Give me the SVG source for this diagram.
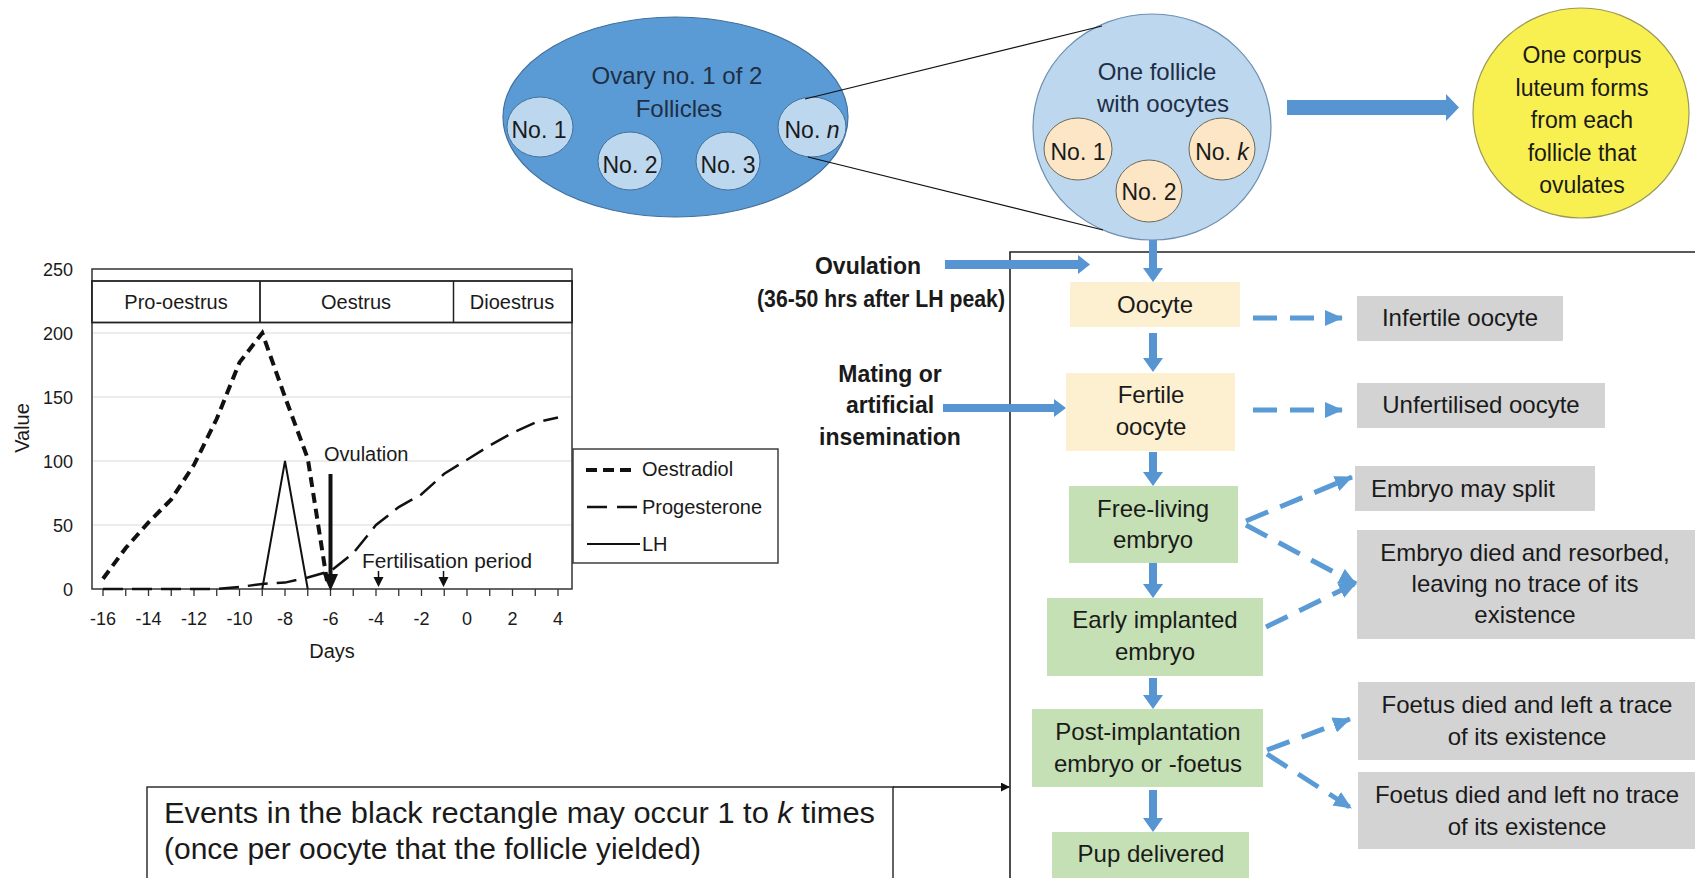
<svg xmlns="http://www.w3.org/2000/svg" width="1695" height="878" viewBox="0 0 1695 878">
<style>
text{font-family:"Liberation Sans",Arial,sans-serif;fill:#1a1a1a}
.t24{font-size:24px;text-anchor:middle}
.t23{font-size:23px;text-anchor:middle}
.ov{fill:#1e2f45}
.b{font-size:23px;font-weight:bold;text-anchor:middle}
.box{stroke:none}
.yel{fill:#fdf0d0}
.grn{fill:#c5e0b4}
.gry{fill:#d3d3d3}
.blk{fill:#5694d2}
.dash{stroke:#5b9bd5;stroke-width:5;stroke-dasharray:24 13;fill:none;marker-end:url(#dh)}
.ct{font-size:20px}
.tick{font-size:18px;text-anchor:middle}
.grid{stroke:#d9d9d9;stroke-width:1.2}
.it{font-style:italic}
</style>
<defs>
<marker id="dh" viewBox="0 0 18 16" refX="17" refY="8" markerWidth="18" markerHeight="16" markerUnits="userSpaceOnUse" orient="auto"><path d="M0,0 L18,8 L0,16 z" fill="#5b9bd5"/></marker>
<marker id="ka" viewBox="0 0 10 10" refX="9" refY="5" markerWidth="9" markerHeight="9" markerUnits="userSpaceOnUse" orient="auto"><path d="M0,0 L10,5 L0,10 z" fill="#111"/></marker>
</defs>

<!-- Ovary -->
<g id="ovary">
<ellipse cx="675.5" cy="117" rx="172.5" ry="100" fill="#5b9bd5" stroke="#41719c" stroke-width="1.2"/>
<text class="t24 ov" x="677" y="84">Ovary no. 1 of 2</text>
<text class="t24 ov" x="679" y="117">Follicles</text>
</g>
<g id="ovary-follicle-1"><ellipse cx="540" cy="127" rx="33" ry="30" fill="#bdd7ee" stroke="#41719c" stroke-width="1"/><text class="t23" x="539" y="138">No. 1</text></g>
<g id="ovary-follicle-2"><ellipse cx="630" cy="161" rx="32" ry="29" fill="#bdd7ee" stroke="#41719c" stroke-width="1"/><text class="t23" x="630" y="173">No. 2</text></g>
<g id="ovary-follicle-3"><ellipse cx="728" cy="161" rx="32" ry="29" fill="#bdd7ee" stroke="#41719c" stroke-width="1"/><text class="t23" x="728" y="173">No. 3</text></g>
<g id="ovary-follicle-n"><ellipse cx="812" cy="127" rx="34" ry="30" fill="#bdd7ee" stroke="#41719c" stroke-width="1"/><text class="t23" x="812" y="138">No. <tspan class="it">n</tspan></text></g>

<!-- Follicle -->
<g id="follicle">
<ellipse cx="1152" cy="127" rx="119" ry="113" fill="#bdd7ee" stroke="#6d8fb0" stroke-width="1.2"/>
<text class="t24 ov" x="1157" y="80">One follicle</text>
<text class="t24 ov" x="1163" y="112">with oocytes</text>
</g>
<g id="oocyte-1"><ellipse cx="1078" cy="149" rx="34" ry="31" fill="#fce6c6" stroke="#6b6b5a" stroke-width="1"/><text class="t23" x="1078" y="160">No. 1</text></g>
<g id="oocyte-2"><ellipse cx="1149" cy="191" rx="33" ry="31" fill="#fce6c6" stroke="#6b6b5a" stroke-width="1"/><text class="t23" x="1149" y="200">No. 2</text></g>
<g id="oocyte-k"><ellipse cx="1222" cy="149" rx="33" ry="31" fill="#fce6c6" stroke="#6b6b5a" stroke-width="1"/><text class="t23" x="1222" y="160">No. <tspan class="it">k</tspan></text></g>

<!-- Corpus luteum -->
<g id="corpus-luteum">
<ellipse cx="1581" cy="113" rx="108" ry="105" fill="#f8f050" stroke="#9c9858" stroke-width="1.2"/>
<text class="t23" x="1582" y="63">One corpus</text>
<text class="t23" x="1582" y="95.5">luteum forms</text>
<text class="t23" x="1582" y="128">from each</text>
<text class="t23" x="1582" y="160.5">follicle that</text>
<text class="t23" x="1582" y="193">ovulates</text>
</g>

<!-- Black rectangle -->
<g id="event-frame">
<path d="M1695,252 H1010 V878" fill="none" stroke="#222" stroke-width="1.6"/>
</g>

<!-- Left labels -->
<g id="label-ovulation">
<text class="b" x="868" y="274">Ovulation</text>
<text class="b" x="881" y="307" textLength="248" lengthAdjust="spacingAndGlyphs">(36-50 hrs after LH peak)</text>
</g>
<g id="label-mating">
<text class="b" x="890" y="382">Mating or</text>
<text class="b" x="890" y="413">artificial</text>
<text class="b" x="890" y="445">insemination</text>
</g>

<!-- Flow boxes -->
<g id="oocyte"><rect class="box yel" x="1070" y="282" width="170" height="45"/><text class="t24" x="1155" y="313">Oocyte</text></g>
<g id="fertile-oocyte"><rect class="box yel" x="1066" y="373" width="169" height="78"/><text class="t24" x="1151" y="403">Fertile</text><text class="t24" x="1151" y="435">oocyte</text></g>
<g id="free-living-embryo"><rect class="box grn" x="1069" y="486" width="169" height="77"/><text class="t24" x="1153" y="517">Free-living</text><text class="t24" x="1153" y="548">embryo</text></g>
<g id="early-implanted-embryo"><rect class="box grn" x="1047" y="598" width="216" height="78"/><text class="t24" x="1155" y="628">Early implanted</text><text class="t24" x="1155" y="660">embryo</text></g>
<g id="post-implantation"><rect class="box grn" x="1032" y="709" width="231" height="78"/><text class="t24" x="1148" y="740">Post-implantation</text><text class="t24" x="1148" y="772">embryo or -foetus</text></g>
<g id="pup-delivered"><rect class="box grn" x="1052" y="832" width="197" height="46"/><text class="t24" x="1151" y="862">Pup delivered</text></g>

<!-- Outcome boxes -->
<g id="infertile-oocyte"><rect class="box gry" x="1357" y="296" width="206" height="45"/><text class="t24" x="1460" y="326">Infertile oocyte</text></g>
<g id="unfertilised-oocyte"><rect class="box gry" x="1357" y="383" width="248" height="45"/><text class="t24" x="1481" y="413">Unfertilised oocyte</text></g>
<g id="embryo-may-split"><rect class="box gry" x="1355" y="466" width="240" height="45"/><text class="t24" x="1463" y="497">Embryo may split</text></g>
<g id="embryo-died"><rect class="box gry" x="1357" y="530" width="338" height="109"/><text class="t24" x="1525" y="561">Embryo died and resorbed,</text><text class="t24" x="1525" y="592">leaving no trace of its</text><text class="t24" x="1525" y="623">existence</text></g>
<g id="foetus-trace"><rect class="box gry" x="1358" y="682" width="337" height="78"/><text class="t24" x="1527" y="713">Foetus died and left a trace</text><text class="t24" x="1527" y="745">of its existence</text></g>
<g id="foetus-no-trace"><rect class="box gry" x="1358" y="772" width="337" height="77"/><text class="t24" x="1527" y="803">Foetus died and left no trace</text><text class="t24" x="1527" y="835">of its existence</text></g>

<!-- Note box -->
<g id="note">
<rect x="147" y="787" width="746" height="100" fill="#fff" stroke="#222" stroke-width="1.4"/>
<text x="164" y="823" style="font-size:30px" textLength="711" lengthAdjust="spacingAndGlyphs">Events in the black rectangle may occur 1 to <tspan class="it">k</tspan> times</text>
<text x="164" y="859" style="font-size:30px">(once per oocyte that the follicle yielded)</text>
</g>

<!-- Connectors -->
<g id="connectors">
<line x1="805" y1="99" x2="1102" y2="26" stroke="#111" stroke-width="1.2"/>
<line x1="808" y1="157" x2="1103" y2="230" stroke="#111" stroke-width="1.2"/>
<polygon class="blk" points="1287,100 1446,100 1446,94 1459,107.5 1446,121 1446,115 1287,115"/>
<polygon class="blk" points="945,260 1078,260 1078,255 1090,264.5 1078,274 1078,269 945,269"/>
<polygon class="blk" points="943,404 1054,404 1054,399 1066,408 1054,417 1054,412 943,412"/>
<polygon class="blk" points="1149,240 1157,240 1157,268 1163,268 1153,282 1143,268 1149,268"/>
<polygon class="blk" points="1149,333 1157,333 1157,358 1163,358 1153,372 1143,358 1149,358"/>
<polygon class="blk" points="1149,452 1157,452 1157,472 1163,472 1153,486 1143,472 1149,472"/>
<polygon class="blk" points="1149,563 1157,563 1157,584 1163,584 1153,598 1143,584 1149,584"/>
<polygon class="blk" points="1149,678 1157,678 1157,695 1163,695 1153,709 1143,695 1149,695"/>
<polygon class="blk" points="1149,790 1157,790 1157,818 1163,818 1153,832 1143,818 1149,818"/>
<line class="dash" x1="1253" y1="318" x2="1342" y2="318"/>
<line class="dash" x1="1253" y1="410" x2="1342" y2="410"/>
<line class="dash" x1="1246" y1="521" x2="1352" y2="477"/>
<line class="dash" x1="1246" y1="525" x2="1356" y2="584"/>
<line class="dash" x1="1266" y1="627" x2="1356" y2="583"/>
<line class="dash" x1="1267" y1="750" x2="1350" y2="719"/>
<line class="dash" x1="1267" y1="754" x2="1351" y2="808"/>
<line x1="893" y1="787" x2="1009" y2="787" stroke="#111" stroke-width="1.4" marker-end="url(#ka)"/>
</g>

<!-- Chart -->
<g id="chart">
<line class="grid" x1="92" y1="525" x2="572" y2="525"/>
<line class="grid" x1="92" y1="461" x2="572" y2="461"/>
<line class="grid" x1="92" y1="397" x2="572" y2="397"/>
<line class="grid" x1="92" y1="333" x2="572" y2="333"/>
<rect x="92" y="269" width="480" height="320" fill="none" stroke="#333" stroke-width="1.5"/>
<rect x="92" y="281" width="480" height="41.5" fill="#fff" stroke="#222" stroke-width="1.8"/>
<line x1="260" y1="281" x2="260" y2="322.5" stroke="#222" stroke-width="1.8"/>
<line x1="453.5" y1="281" x2="453.5" y2="322.5" stroke="#222" stroke-width="1.5"/>
<text class="ct" x="176" y="309" text-anchor="middle">Pro-oestrus</text>
<text class="ct" x="356" y="309" text-anchor="middle">Oestrus</text>
<text class="ct" x="512" y="309" text-anchor="middle">Dioestrus</text>
<path d="M103,589v7M125.75,589v7M148.5,589v7M171.25,589v7M194,589v7M216.75,589v7M239.5,589v7M262.25,589v7M285,589v7M307.75,589v7M330.5,589v7M353.25,589v7M376,589v7M398.75,589v7M421.5,589v7M444.25,589v7M467,589v7M489.75,589v7M512.5,589v7M535.25,589v7M558,589v7" stroke="#333" stroke-width="1.3"/>
<g class="tick">
<text x="103" y="625">-16</text><text x="148.5" y="625">-14</text><text x="194" y="625">-12</text><text x="239.5" y="625">-10</text><text x="285" y="625">-8</text><text x="330.5" y="625">-6</text><text x="376" y="625">-4</text><text x="421.5" y="625">-2</text><text x="467" y="625">0</text><text x="512.5" y="625">2</text><text x="558" y="625">4</text>
</g>
<g style="font-size:18px;text-anchor:end">
<text x="73" y="276">250</text><text x="73" y="340">200</text><text x="73" y="404">150</text><text x="73" y="468">100</text><text x="73" y="532">50</text><text x="73" y="596">0</text>
</g>
<text class="ct" x="23" y="428" text-anchor="middle" transform="rotate(-90 23 428)" dy="6">Value</text>
<text class="ct" x="332" y="658" text-anchor="middle">Days</text>
<polyline points="103,589 216.75,589 239.5,587 262.25,583.9 285,582.6 307.75,577.5 330.5,571.1 353.25,553.2 376,525 398.75,507.1 421.5,494.3 444.25,473.8 467,459.7 489.75,445.6 512.5,432.8 535.25,422.6 558,417.5" fill="none" stroke="#111" stroke-width="2.5" stroke-dasharray="20 9"/>
<polyline points="262.25,589 285,461 307.75,589" fill="none" stroke="#111" stroke-width="2"/>
<polyline points="103,578.8 125.75,548 148.5,522.4 171.25,499.4 194,464.8 216.75,418.8 239.5,362.4 262.25,333 285,397 307.75,458.4 327,581" fill="none" stroke="#111" stroke-width="4" stroke-dasharray="10 6"/>
<line x1="330.5" y1="474" x2="330.5" y2="578" stroke="#111" stroke-width="4"/>
<path d="M323,574 L338,574 L330.5,591 z" fill="#111"/>
<path d="M378.5,571 v7 M443.5,571 v7" stroke="#111" stroke-width="1.5"/>
<path d="M373.5,577 L383.5,577 L378.5,587 z M438.5,577 L448.5,577 L443.5,587 z" fill="#111"/>
<text class="ct" x="324" y="461">Ovulation</text>
<text class="ct" x="362" y="568" textLength="170" lengthAdjust="spacingAndGlyphs">Fertilisation period</text>
</g>

<!-- Legend -->
<g id="legend">
<rect x="573" y="449" width="205" height="114" fill="#fff" stroke="#333" stroke-width="1.4"/>
<line x1="586" y1="470" x2="634" y2="470" stroke="#111" stroke-width="4" stroke-dasharray="11 6"/>
<line x1="587" y1="507" x2="640" y2="507" stroke="#111" stroke-width="2.5" stroke-dasharray="20 10"/>
<line x1="587" y1="544" x2="640" y2="544" stroke="#111" stroke-width="2"/>
<text class="ct" x="642" y="476">Oestradiol</text>
<text class="ct" x="642" y="514">Progesterone</text>
<text class="ct" x="642" y="551">LH</text>
</g>
</svg>
